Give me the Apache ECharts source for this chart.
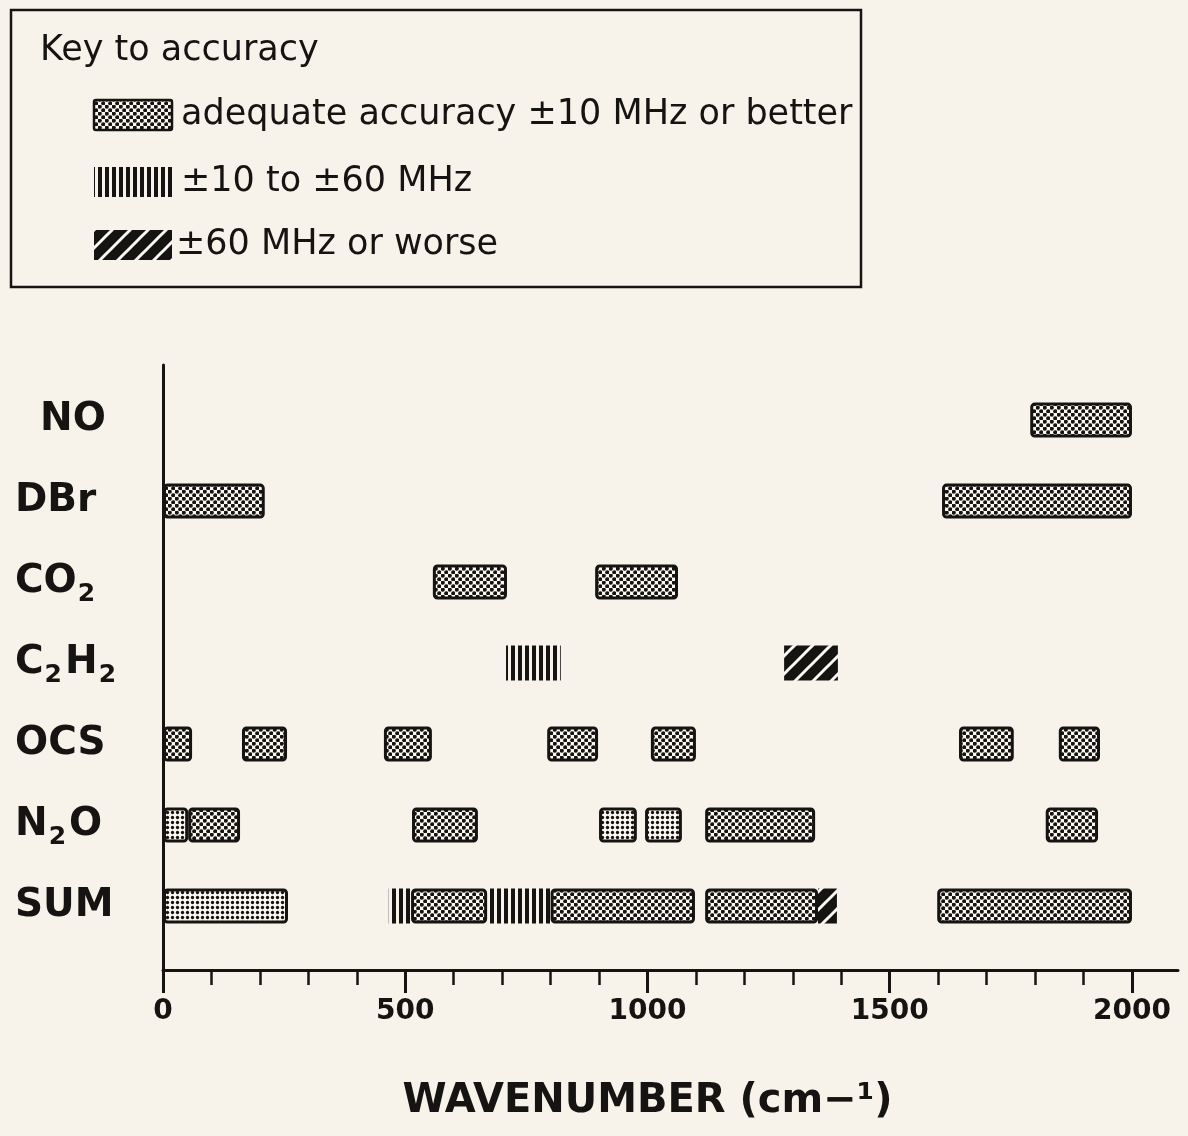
<!DOCTYPE html>
<html>
<head>
<meta charset="utf-8">
<script src="https://cdn.jsdelivr.net/npm/echarts@6/dist/echarts.min.js"></script>
<style>
  html, body { margin: 0; padding: 0; background: #f8f3ea; }
  #chart { width: 1188px; height: 1136px; }
</style>
</head>
<body>
<div id="chart"></div>
<script>
// molecule rows, top to bottom (rich text for the subscripts)
const molecules = ['NO', 'DBr', 'CO{sub|2}', 'C{sub|2}H{sub|2}', 'OCS', 'N{sub|2}O', 'SUM'];

// bands per molecule: [from cm-1, to cm-1, accuracy]
const noBands = [[1790, 2000, 'adequate']];
const dbrBands = [[0, 210, 'adequate'], [1608, 2000, 'adequate']];
const co2Bands = [[557, 710, 'adequate'], [892, 1063, 'adequate']];
const c2h2Bands = [[708, 821, 'mid'], [1282, 1393, 'poor']];
const ocsBands = [
  [0, 60, 'adequate'], [163, 256, 'adequate'], [456, 555, 'adequate'],
  [793, 898, 'adequate'], [1007, 1100, 'adequate'], [1643, 1756, 'adequate'],
  [1849, 1934, 'adequate']
];
const n2oBands = [
  [0, 52, 'fine'], [52, 159, 'adequate'], [514, 650, 'adequate'],
  [900, 978, 'fine'], [995, 1071, 'fine'], [1119, 1346, 'adequate'],
  [1822, 1930, 'adequate']
];
const sumBands = [
  [0, 258, 'fine'], [466, 512, 'mid'], [512, 669, 'adequate'],
  [669, 800, 'mid'], [800, 1098, 'adequate'], [1119, 1352, 'adequate'],
  [1352, 1391, 'poor'], [1598, 2000, 'adequate']
];

const majorTicks = [0, 500, 1000, 1500, 2000];
const minorTicks = [100, 200, 300, 400, 600, 700, 800, 900, 1100, 1200, 1300, 1400, 1600, 1700, 1800, 1900];

const keyTitle = 'Key to accuracy';
const keyLabels = ['adequate accuracy ±10 MHz or better', '±10 to ±60 MHz', '±60 MHz or worse'];

const kinds = ['adequate', 'mid', 'poor', 'fine'];
const ink = '#161412';
const paper = '#fbf8f1';

// fill patterns drawn on small canvases
function makePattern(kind) {
  const c = document.createElement('canvas');
  const ctx = c.getContext('2d');
  if (kind === 'adequate') {
    c.width = 7; c.height = 7;
    ctx.fillStyle = paper;
    ctx.fillRect(0, 0, 7, 7);
    ctx.fillStyle = ink;
    [[1.75, 1.75], [5.25, 5.25]].forEach(p => {
      ctx.beginPath();
      ctx.arc(p[0], p[1], 2.1, 0, Math.PI * 2);
      ctx.fill();
    });
  } else if (kind === 'fine') {
    c.width = 5; c.height = 5;
    ctx.fillStyle = paper;
    ctx.fillRect(0, 0, 5, 5);
    ctx.fillStyle = ink;
    ctx.beginPath();
    ctx.arc(2.5, 2.5, 1.65, 0, Math.PI * 2);
    ctx.fill();
  } else if (kind === 'mid') {
    c.width = 7; c.height = 4;
    ctx.fillStyle = ink;
    ctx.fillRect(0, 0, 4, 4);
  } else {
    c.width = 18; c.height = 18;
    ctx.fillStyle = ink;
    ctx.fillRect(0, 0, 18, 18);
    ctx.strokeStyle = paper;
    ctx.lineWidth = 3;
    [[0, 18, 18, 0], [-9, 9, 9, -9], [9, 27, 27, 9]].forEach(l => {
      ctx.beginPath();
      ctx.moveTo(l[0], l[1]);
      ctx.lineTo(l[2], l[3]);
      ctx.stroke();
    });
  }
  return { image: c, repeat: 'repeat' };
}

const patterns = kinds.map(makePattern);

const allBands = [noBands, dbrBands, co2Bands, c2h2Bands, ocsBands, n2oBands, sumBands];
const bandData = [];
allBands.forEach((bands, i) => {
  bands.forEach(b => {
    bandData.push([b[0], b[1], molecules.length - i, kinds.indexOf(b[2])]);
  });
});

function bandStyle(k) {
  if (k === 0 || k === 3) {
    return { fill: patterns[k], stroke: ink, lineWidth: 3 };
  }
  return { fill: patterns[k] };
}

function renderBand(params, api) {
  const start = api.coord([api.value(0), api.value(2)]);
  const end = api.coord([api.value(1), api.value(2)]);
  const h = 35;
  const k = api.value(3);
  const boxed = k === 0 || k === 3;
  const inset = boxed ? 1.5 : 0;
  return {
    type: 'rect',
    shape: {
      x: start[0] + inset,
      y: start[1] - h / 2 + inset,
      width: end[0] - start[0] - inset * 2,
      height: h - inset * 2,
      r: boxed ? 3 : 0
    },
    style: bandStyle(k)
  };
}

const legendFont = 'DejaVu Sans';
const legendSize = 35;
const legendRows = [115, 182, 245];

const graphic = [
  {
    type: 'rect',
    shape: { x: 11, y: 10, width: 850, height: 277 },
    style: { fill: 'none', stroke: ink, lineWidth: 2.5 }
  },
  {
    type: 'text', x: 40, y: 51,
    style: { text: keyTitle, fontFamily: legendFont, fontSize: legendSize, fill: ink, verticalAlign: 'middle' }
  }
];
legendRows.forEach((y, i) => {
  const boxed = i === 0;
  graphic.push({
    type: 'rect',
    shape: { x: 94, y: y - 15, width: 78, height: 30, r: boxed ? 2 : 0 },
    style: boxed ? { fill: patterns[i], stroke: ink, lineWidth: 2.5 } : { fill: patterns[i] }
  });
  graphic.push({
    type: 'text', x: i === 2 ? 176 : 181, y: y,
    style: { text: keyLabels[i], fontFamily: legendFont, fontSize: legendSize, fill: ink, verticalAlign: 'middle' }
  });
});

const chart = echarts.init(document.getElementById('chart'));

const labelFont = { fontFamily: 'DejaVu Sans', fontWeight: 'bold', color: ink };

const option = {
  backgroundColor: '#f8f3ea',
  animation: false,
  grid: { left: 163, right: 10, top: 365, bottom: 166, containLabel: false },
  graphic: graphic,
  xAxis: [
    {
      type: 'value',
      min: 0,
      max: 2095,
      name: 'WAVENUMBER (cm−¹)',
      nameLocation: 'middle',
      nameGap: 112,
      nameTextStyle: Object.assign({ fontSize: 40, padding: [0, 46, 0, 0] }, labelFont),
      axisLine: { show: true, lineStyle: { color: ink, width: 3, cap: 'round' } },
      axisTick: { show: true, customValues: majorTicks, length: 23, lineStyle: { color: ink, width: 3 } },
      axisLabel: Object.assign({
        customValues: majorTicks,
        margin: 28,
        fontSize: 28,
        formatter: v => String(v)
      }, labelFont),
      splitLine: { show: false }
    },
    {
      type: 'value',
      min: 0,
      max: 2095,
      position: 'bottom',
      axisLine: { show: false },
      axisTick: { show: true, customValues: minorTicks, length: 15, lineStyle: { color: ink, width: 2.5 } },
      axisLabel: { show: false },
      splitLine: { show: false }
    }
  ],
  yAxis: {
    type: 'value',
    min: 0.21,
    max: 7.68,
    axisLine: { show: true, lineStyle: { color: ink, width: 3 } },
    axisTick: { show: false },
    splitLine: { show: false },
    axisLabel: Object.assign({
      customValues: [1, 2, 3, 4, 5, 6, 7],
      align: 'left',
      margin: 148,
      fontSize: 39,
      lineHeight: 50,
      formatter: v => {
        const name = molecules[molecules.length - v];
        return name === 'NO' ? '{ind|' + name + '}' : name;
      },
      rich: {
        ind: Object.assign({ padding: [0, 0, 0, 25], fontSize: 39, lineHeight: 50 }, labelFont),
        sub: Object.assign({ fontSize: 25, lineHeight: 26, verticalAlign: 'bottom', padding: [0, 3, 0, 1] }, labelFont)
      }
    }, labelFont)
  },
  series: [
    {
      type: 'custom',
      renderItem: renderBand,
      encode: { x: [0, 1], y: 2 },
      data: bandData,
      clip: false
    }
  ]
};

chart.setOption(option);
</script>
</body>
</html>
